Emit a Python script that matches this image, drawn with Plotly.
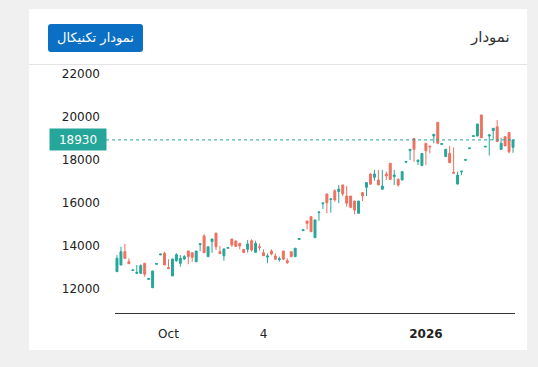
import plotly.graph_objects as go
import pandas as pd

# ---------------- data ----------------
dates = [d.strftime('%Y-%m-%d') for d in pd.bdate_range('2025-09-12', '2026-02-02')
         if d.strftime('%Y-%m-%d') != '2025-12-25']

open_ = [12790,13100,13720,13250,12840,12710,12710,13180,12430,12040,
         13130,13570,13650,12980,12590,13300,13180,13380,13750,13670,
         13250,14050,14450,13490,14190,14580,13720,13530,13880,14310,
         14220,14110,13830,13830,14230,13690,13950,13670,13470,13750,
         13520,13350,13750,13300,13720,13490,14290,14700,15150,15350,
         14370,15540,15960,16410,16150,16560,16520,16830,16310,16310,
         16080,15510,16470,16720,17340,17190,17060,16630,17340,17840,
         17220,17090,17060,17890,18430,19000,17920,17730,18770,18640,
         19110,19750,18720,18150,18300,17420,16870,17440,17980,18520,
         19090,19110,20090,18600,19110,19360,19540,18490,19080,19270,
         18580]
high = [13560,13950,14080,13410,12870,13100,13130,13190,12480,12830,
        13170,13610,13720,13370,13390,13650,13560,13560,13760,13680,
        13760,14100,14530,13960,14320,14610,13990,13860,13910,14320,
        14230,14120,13840,14260,14300,14230,14110,13830,13640,13830,
        13640,13490,13760,13410,13730,13890,14330,14740,15160,15360,
        15210,15570,15990,16420,16180,16630,16830,16840,16780,16320,
        16090,16090,16480,16950,17370,17530,17530,17530,17450,17850,
        17530,17140,17460,17930,18500,19010,18000,18310,18780,18650,
        19200,19760,18760,18500,18650,18580,17450,17480,18010,18550,
        19120,19680,20100,18630,19170,19480,19860,19030,19090,19280,
        18940]
low = [12780,13090,13400,13150,12830,12700,12700,12550,12410,12030,
       13120,13560,13090,12920,12580,13250,13020,13330,13130,13250,
       13240,13750,13660,13480,13670,13800,13620,13300,13870,13950,
       13950,13830,13670,13670,13720,13680,13770,13520,13180,13550,
       13330,13250,13330,13150,13460,13480,14280,14690,14760,14640,
       14360,15160,15710,15510,15540,16050,15980,16310,15820,15740,
       15460,15500,16080,16310,16830,17030,16820,16620,17060,17060,
       16830,16750,17050,17840,17990,17910,17760,17720,17760,18300,
       18770,18720,18710,18140,17840,17370,16860,17290,17970,18510,
       19080,19100,19020,18590,18200,18920,18840,18480,18640,18300,
       18330]
close = [13410,13720,13410,13160,12870,12750,13070,12670,12470,12820,
         13170,13610,13100,12930,13380,13580,13410,13490,13490,13460,
         13750,14090,13670,13950,14310,13950,13630,13850,13910,14030,
         13960,13990,13680,14080,13800,14110,13920,13530,13520,13610,
         13370,13390,13370,13210,13490,13880,14330,14740,15040,14650,
         15200,15570,15990,16000,16180,16130,16640,16410,15980,15790,
         15660,16080,16320,16940,16870,17340,16830,16780,17250,17090,
         17290,16830,17450,17920,18490,18490,17990,18300,18430,18610,
         19190,18770,18760,18490,17870,17380,17290,17470,18010,18550,
         19120,19670,19030,18630,19160,19470,18850,18770,18650,18380,
         18930]

x_tick_vals = ['2025-10-01', '2025-11-04', '2026-01-01']
x_tick_text = ['Oct', '4', '<b>2026</b>']
y_tick_vals = [12000, 14000, 16000, 18000, 20000, 22000]
last_price = 18930
title_text = 'نمودار'
button_text = 'نمودار تکنیکال'

# ---------------- styling ----------------
UP = '#26a69a'
DOWN = '#ef7060'
BTN = '#0b70c4'
FONT = 'DejaVu Sans'

W, H = 538, 367
L, R, T, B = 115, 515, 65, 313

def xp(px):
    return (px - L) / (R - L)

def yp(py):
    return (B - py) / (B - T)

def yval(py):
    return 22000 - (py - 74) * 46.6

fig = go.Figure()
fig.add_trace(go.Candlestick(
    x=dates, open=open_, high=high, low=low, close=close,
    increasing=dict(line=dict(color=UP, width=1), fillcolor=UP),
    decreasing=dict(line=dict(color=DOWN, width=1), fillcolor=DOWN),
    whiskerwidth=0, showlegend=False, hoverinfo='skip'))

shapes = []
# card
shapes.append(dict(type='rect', xref='paper', yref='paper', layer='below',
                   x0=xp(29), x1=xp(527), y0=yp(350), y1=yp(9),
                   fillcolor='white', line=dict(width=0)))
# header separator
shapes.append(dict(type='line', xref='paper', yref='paper',
                   x0=xp(29), x1=xp(527), y0=yp(64.5), y1=yp(64.5),
                   line=dict(color='#e3e3e3', width=1)))
# button with rounded corners
bx0, bx1, by0, by1, r = 48, 143, 24, 52, 3
path = (f"M {xp(bx0+r)} {yp(by0)} L {xp(bx1-r)} {yp(by0)} "
        f"Q {xp(bx1)} {yp(by0)} {xp(bx1)} {yp(by0+r)} "
        f"L {xp(bx1)} {yp(by1-r)} Q {xp(bx1)} {yp(by1)} {xp(bx1-r)} {yp(by1)} "
        f"L {xp(bx0+r)} {yp(by1)} Q {xp(bx0)} {yp(by1)} {xp(bx0)} {yp(by1-r)} "
        f"L {xp(bx0)} {yp(by0+r)} Q {xp(bx0)} {yp(by0)} {xp(bx0+r)} {yp(by0)} Z")
shapes.append(dict(type='path', xref='paper', yref='paper', path=path,
                   fillcolor=BTN, line=dict(width=0)))
# last price dotted line
shapes.append(dict(type='line', xref='paper', yref='y',
                   x0=xp(106), x1=1, y0=last_price, y1=last_price,
                   line=dict(color=UP, width=1, dash='dot')))

annotations = [
    dict(text=title_text, xref='paper', yref='paper', x=xp(512), y=yp(37),
         xanchor='right', yanchor='middle', showarrow=False,
         font=dict(family=FONT, size=15, color='#333333')),
    dict(text=button_text, xref='paper', yref='paper', x=xp(95.5), y=yp(38),
         xanchor='center', yanchor='middle', showarrow=False,
         font=dict(family=FONT, size=13, color='white')),
    dict(text=str(last_price), xref='paper', yref='y', x=xp(78), y=last_price,
         xanchor='center', yanchor='middle', showarrow=False,
         bgcolor=UP, width=52, height=17, borderpad=2,
         font=dict(family=FONT, size=12, color='white')),
]

fig.update_layout(
    width=W, height=H,
    margin=dict(l=L, r=W - R, t=T, b=H - B, pad=0),
    paper_bgcolor='#f0f0f0', plot_bgcolor='white',
    font=dict(family=FONT, size=12, color='#222222'),
    shapes=shapes, annotations=annotations,
    xaxis=dict(type='category', rangeslider=dict(visible=False),
               range=[-0.5, len(dates) - 0.5],
               showgrid=False, zeroline=False,
               showline=True, linecolor='#333333', linewidth=1,
               tickmode='array', tickvals=x_tick_vals, ticktext=x_tick_text,
               ticks='', ticklabelstandoff=10,
               tickfont=dict(family=FONT, size=12, color='#222222')),
    yaxis=dict(range=[yval(B), yval(T)], showgrid=False, zeroline=False,
               showline=False, tickmode='array', tickvals=y_tick_vals,
               tickformat='d', ticks='', ticklabelstandoff=14,
               tickfont=dict(family=FONT, size=12, color='#222222')),
)

fig.write_html("out.html",
               config={'displayModeBar': False},
               post_script="document.body.style.margin='0';document.body.style.background='#f0f0f0';")
